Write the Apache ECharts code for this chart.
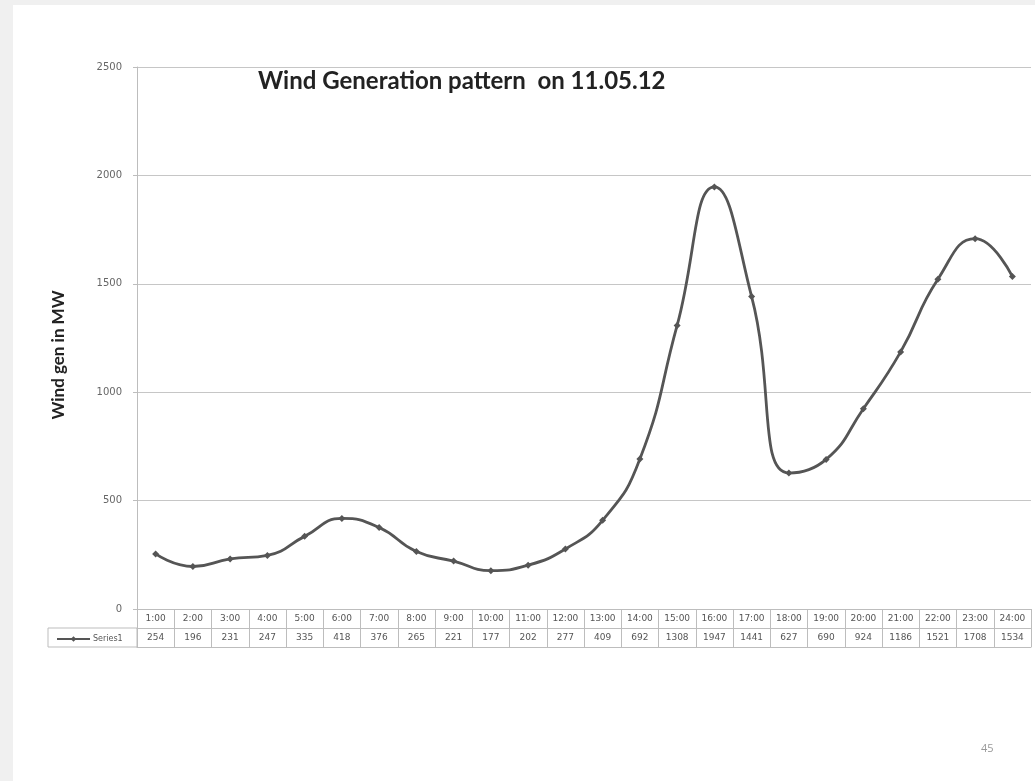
<!DOCTYPE html>
<html>
<head>
<meta charset="utf-8">
<title>Wind Generation pattern on 11.05.12</title>
<script src="https://cdn.jsdelivr.net/npm/echarts@6/dist/echarts.min.js"></script>
<style>
  html, body { margin: 0; padding: 0; background: #f0f0f0; width: 1035px; height: 781px; overflow: hidden; }
  #chart { position: absolute; left: 13px; top: 5px; width: 1022px; height: 776px; background: #ffffff; }
</style>
</head>
<body>
<div id="chart"></div>
<script>
// Hourly wind generation (MW) for 11.05.12
const hours = ['1:00','2:00','3:00','4:00','5:00','6:00','7:00','8:00','9:00','10:00','11:00','12:00',
               '13:00','14:00','15:00','16:00','17:00','18:00','19:00','20:00','21:00','22:00','23:00','24:00'];
const windGen = [254, 196, 231, 247, 335, 418, 376, 265, 221, 177, 202, 277,
                 409, 692, 1308, 1947, 1441, 627, 690, 924, 1186, 1521, 1708, 1534];
const yTicks = [0, 500, 1000, 1500, 2000, 2500];
const seriesName = 'Series1';
const titleText = 'Wind Generation pattern  on 11.05.12';
const yAxisTitle = 'Wind gen in MW';
const pageNumber = '45';

const lineColor = '#555555';
const tableLine = '#bdbdbd';
const smallFont = 'DejaVu Sans, sans-serif';
const tableFont = { fontSize: 9, color: '#555', fontFamily: smallFont };

const chart = echarts.init(document.getElementById('chart'));
chart.setOption({
  animation: false,
  backgroundColor: '#ffffff',
  title: {
    text: titleText,
    left: 240, top: 59,
    textStyle: { fontFamily: 'Lato', fontWeight: 'bold', fontSize: 24, color: '#222' }
  },
  legend: {
    data: [seriesName],
    left: 38, top: 625,
    itemWidth: 33, itemHeight: 7, itemGap: 3,
    textStyle: { fontSize: 8, color: '#555', fontFamily: smallFont, padding: [0, 0, 0, -2] }
  },
  grid: { left: 124, right: 4, top: 62, bottom: 172 },
  xAxis: [
    {
      type: 'category', data: hours, position: 'bottom', boundaryGap: true,
      axisLine: { lineStyle: { color: tableLine, width: 1 } },
      axisTick: { show: true, length: 38, interval: 0, lineStyle: { color: tableLine } },
      axisLabel: Object.assign({ interval: 0, margin: 5 }, tableFont)
    },
    {
      type: 'category', data: windGen.map(String), position: 'bottom', offset: 19, boundaryGap: true,
      axisLine: { show: true, lineStyle: { color: tableLine, width: 1 } },
      axisTick: { show: false },
      axisLabel: Object.assign({ interval: 0, margin: 5 }, tableFont)
    },
    {
      type: 'category', data: hours, position: 'bottom', offset: 38, boundaryGap: true,
      axisLine: { show: true, lineStyle: { color: tableLine, width: 1 } },
      axisTick: { show: false }, axisLabel: { show: false }
    }
  ],
  yAxis: {
    type: 'value', min: yTicks[0], max: yTicks[yTicks.length - 1], interval: 500,
    name: yAxisTitle, nameLocation: 'middle', nameGap: 70, nameRotate: 90,
    nameTextStyle: { fontFamily: 'Lato', fontWeight: 'bold', fontSize: 17, color: '#222', padding: [0, 34, 0, 0] },
    axisLine: { show: true, lineStyle: { color: tableLine } },
    axisTick: { show: true, length: 4, lineStyle: { color: tableLine } },
    axisLabel: { margin: 15, fontSize: 10, color: '#666', fontFamily: smallFont, formatter: v => String(v) },
    splitLine: { lineStyle: { color: '#c6c6c6', width: 1 } }
  },
  series: [{
    name: seriesName, type: 'line', data: windGen, xAxisIndex: 0,
    smooth: 0.5,
    symbol: 'diamond', symbolSize: 7,
    lineStyle: { color: lineColor, width: 2.8 },
    itemStyle: { color: lineColor }
  }],
  graphic: [
    {
      type: 'rect', shape: { x: 35, y: 623, width: 89, height: 19 },
      style: { fill: 'none', stroke: tableLine, lineWidth: 1 }, silent: true
    },
    {
      type: 'text', left: 968, top: 738,
      style: { text: pageNumber, fontSize: 11, fill: '#999', fontFamily: 'Open Sans' }
    }
  ]
});
</script>
</body>
</html>
